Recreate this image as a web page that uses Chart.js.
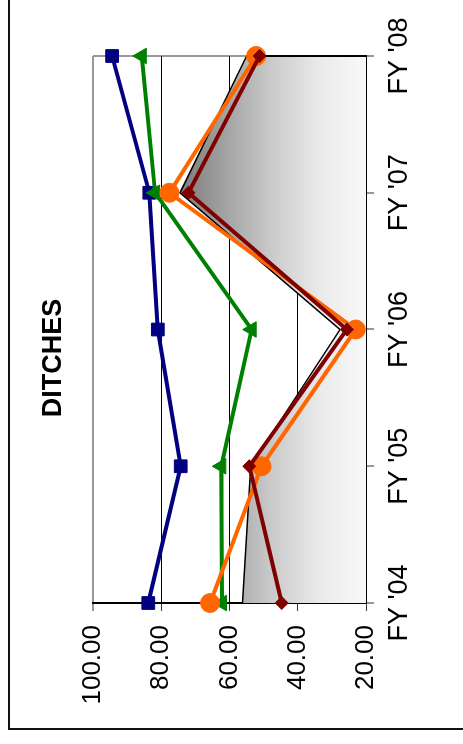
<!DOCTYPE html>
<html>
<head>
<meta charset="utf-8">
<script src="https://cdn.jsdelivr.net/npm/chart.js@4.4.1/dist/chart.umd.min.js"></script>
<style>
  html, body { margin: 0; padding: 0; background: #fff; overflow: hidden; }
  body { width: 463px; height: 744px; position: relative; }
  #frame {
    position: absolute; left: 8px; top: -10px; width: 470px; height: 740px;
    box-sizing: border-box; border: 2px solid #111;
  }
  #turn {
    position: absolute; left: 0; top: 0; width: 744px; height: 463px;
    transform-origin: 0 0;
    transform: translate(0, 744px) rotate(-90deg);
  }
</style>
</head>
<body>
<div id="frame"></div>
<div id="turn"><canvas id="ditches" width="744" height="463"></canvas></div>
<script>
const years = ["FY '04", "FY '05", "FY '06", "FY '07", "FY '08"];
const blueVals = [83.8, 74.3, 81.0, 83.5, 94.4];
const greenVals = [62.2, 62.4, 53.5, 81.8, 85.7];
const orangeVals = [65.7, 50.6, 23.0, 77.6, 52.2];
const redVals = [44.7, 54.2, 25.6, 72.0, 51.2];
const areaVals = [56.2, 53.8, 27.6, 74.5, 55.0];
const valueTicks = [20, 40, 60, 80, 100];

Chart.defaults.font.family = "'Liberation Sans', Arial, sans-serif";
Chart.defaults.color = '#000';

// gradient for the gray area, dark at its peak and fading to white at the axis
function areaFill(context) {
  const chart = context.chart;
  if (!chart.chartArea) return '#bbbbbb';
  const y = chart.scales.y;
  const top = y.getPixelForValue(Math.max(...areaVals));
  const bottom = y.getPixelForValue(valueTicks[0]);
  const g = chart.ctx.createLinearGradient(0, top, 0, bottom);
  g.addColorStop(0, '#7c7c7c');
  g.addColorStop(0.5, '#cbcbcb');
  g.addColorStop(0.75, '#eaeaea');
  g.addColorStop(1, '#f9f9f9');
  return g;
}

// closes the area outline along its last category
const areaEdge = {
  id: 'areaEdge',
  afterDatasetDraw(chart, args) {
    if (args.index !== 4) return;
    const { ctx, scales: { x, y } } = chart;
    const px = x.getPixelForValue(years.length - 1);
    ctx.save();
    ctx.strokeStyle = '#000';
    ctx.lineWidth = 2;
    ctx.beginPath();
    ctx.moveTo(px, y.getPixelForValue(areaVals[areaVals.length - 1]));
    ctx.lineTo(px, y.getPixelForValue(valueTicks[0]));
    ctx.stroke();
    ctx.restore();
  }
};

// the title sits centred on the whole chart box, not just the plot
const titleShift = {
  id: 'titleShift',
  afterLayout(chart) {
    const t = chart.titleBlock;
    if (!t) return;
    t.left = 0;
    t.right = 772;
    t.width = 772;
  }
};

function series(data, color, style, radius, order) {
  return {
    data: data,
    borderColor: color,
    backgroundColor: color,
    borderWidth: 4,
    pointStyle: style,
    pointRadius: radius,
    pointBorderWidth: 1,
    pointBackgroundColor: color,
    pointBorderColor: color,
    tension: 0,
    fill: false,
    clip: false,
    order: order
  };
}

new Chart(document.getElementById('ditches'), {
  type: 'line',
  data: {
    labels: years,
    datasets: [
      series(redVals, '#800000', 'rectRot', 6.5, 1),
      series(orangeVals, '#ff6600', 'circle', 9.5, 2),
      series(greenVals, '#008000', 'triangle', 9, 3),
      series(blueVals, '#000080', 'rect', 9, 4),
      {
        data: areaVals,
        borderColor: '#000',
        borderWidth: 1.5,
        backgroundColor: areaFill,
        fill: 'start',
        pointRadius: 0,
        tension: 0,
        order: 5
      }
    ]
  },
  options: {
    responsive: false,
    animation: false,
    layout: { padding: { left: 20, right: 56, top: 0, bottom: 0 } },
    plugins: {
      legend: { display: false },
      tooltip: { enabled: false },
      title: {
        display: true,
        text: 'DITCHES',
        color: '#000',
        font: { size: 27, weight: 'bold' },
        padding: { top: 37, bottom: 23.6 }
      }
    },
    scales: {
      x: {
        offset: false,
        afterFit(scale) { scale.height = 97; },
        border: { color: '#000', width: 2 },
        grid: {
          color: ctx => ctx.index === years.length - 1 ? '#999' : 'rgba(0,0,0,0)',
          lineWidth: 2,
          tickLength: 8,
          tickColor: '#333',
          tickWidth: 1
        },
        ticks: { font: { size: 27 }, color: '#000', padding: 9, maxRotation: 0, autoSkip: false }
      },
      y: {
        min: 20,
        max: 100,
        afterFit(scale) { scale.width = 121; },
        afterBuildTicks(scale) { scale.ticks = valueTicks.map(v => ({ value: v })); },
        border: { color: '#000', width: 2 },
        grid: {
          color: ctx => ctx.tick && ctx.tick.value === 100 ? '#999' : '#000',
          lineWidth: ctx => ctx.tick && ctx.tick.value === 100 ? 2 : 1,
          tickLength: 8,
          tickColor: '#333',
          tickWidth: 1
        },
        ticks: {
          font: { size: 26 },
          color: '#000',
          padding: 14,
          callback: v => v.toFixed(2)
        }
      }
    }
  },
  plugins: [areaEdge, titleShift]
});
</script>
</body>
</html>
